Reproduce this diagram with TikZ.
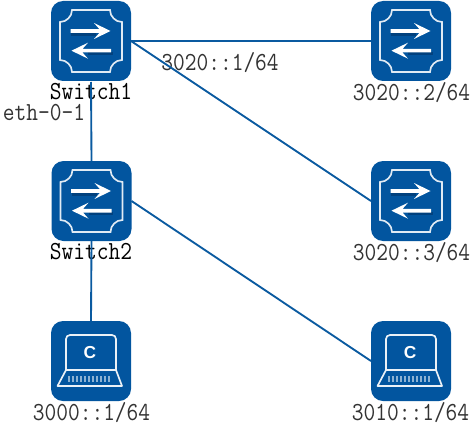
\documentclass[tikz,border=0pt]{standalone}
\usepackage{fontspec}
\newfontfamily\glyphsans{Liberation Sans}
\newcommand{\tallbox}[1]{\scalebox{1}[1.14]{#1}}
\definecolor{iconblue}{HTML}{02559F}
\definecolor{shadeblue}{HTML}{01417E}
\definecolor{linkblue}{HTML}{0A5AA0}
\tikzset{
  x=0.75pt,y=-0.75pt,
  iconbox/.style={draw=none,fill=iconblue,rounded corners=9pt,minimum width=60pt,minimum height=60pt,inner sep=0pt,outer sep=0pt},
  link/.style={draw=linkblue,line width=1.4pt},
  lab/.style={font=\fontsize{17.1pt}{18pt}\selectfont\ttfamily,text=black!80,inner sep=0pt,anchor=center},
  boldlab/.style={font=\fontsize{17.1pt}{18pt}\selectfont\ttfamily\addfontfeatures{FakeBold=0.6},text=black,inner sep=0pt,anchor=center},
  switchglyph/.pic={
    \draw[white!88!iconblue,line width=1.25pt]
      (-19,-31) -- (19,-31) .. controls (19,-24.5) and (24.5,-19) .. (31,-19)
      -- (31,19) .. controls (24.5,19) and (19,24.5) .. (19,31)
      -- (-19,31) .. controls (-19,24.5) and (-24.5,19) .. (-31,19)
      -- (-31,-19) .. controls (-24.5,-19) and (-19,-24.5) .. (-19,-31) -- cycle;
    \fill[shadeblue] (-20,-8) rectangle (5,-5);
    \fill[white] (-20.3,-11.8) -- (8.5,-11.8) -- (3,-18) -- (19.5,-10) -- (3,-2) -- (8.5,-8.2) -- (-20.3,-8.2) -- cycle;
    \fill[shadeblue] (-3,11) rectangle (21.5,14);
    \fill[white] (20,7.9) -- (-8.5,7.9) -- (-3,1.7) -- (-19.5,9.7) -- (-3,17.7) -- (-8.5,11.5) -- (20,11.5) -- cycle;
  },
  hostglyph/.pic={
    \draw[white!92!iconblue,line width=1.25pt,rounded corners=3pt] (-25,9) -- (-25,-26) -- (25,-26) -- (25,9);
    \draw[white!92!iconblue,line width=1.25pt,line join=round] (-25,9) -- (25,9) -- (31,25) -- (-33.5,25) -- cycle;
    \foreach \yy in {16,18,20}{
      \draw[white,opacity=.55,line width=.8pt,dash pattern=on 1.5pt off 1.5pt] (-23,\yy) -- (21,\yy);
    }
    \node[text=white,inner sep=0pt,font=\fontsize{13pt}{13pt}\selectfont\glyphsans\bfseries] at (-1,-8.5) {C};
  }
}
\begin{document}
\begin{tikzpicture}
\useasboundingbox (0,0) rectangle (473,431);
\node[iconbox] (s1) at (91,41) {};
\node[iconbox] (s2) at (91.5,201) {};
\node[iconbox] (h1) at (91,361) {};
\node[iconbox] (r1) at (411,41) {};
\node[iconbox] (r2) at (411,201) {};
\node[iconbox] (h2) at (411,361) {};
\coordinate (s1e) at (131,41);
\coordinate (s2e) at (131.5,201);
\coordinate (r1w) at (371,41);
\coordinate (r2w) at (371,201);
\coordinate (h2w) at (371,361);
\foreach \n in {s1,s2,r1,r2}{\pic at (\n) {switchglyph};}
\foreach \n in {h1,h2}{\pic at (\n) {hostglyph};}
\node[boldlab] (ts1) at (91,91.5) {\tallbox{Switch1}};
\node[boldlab] (ts2) at (91,252) {\tallbox{Switch2}};
\node[lab] (e) at (44,113) {\tallbox{eth-0-1}};
\node[lab] (a1) at (220,62.5) {\tallbox{3020::1/64}};
\node[lab] (a2) at (411.5,92.5) {\tallbox{3020::2/64}};
\node[lab] (a3) at (411.5,252.5) {\tallbox{3020::3/64}};
\node[lab] (a4) at (91.5,412.5) {\tallbox{3000::1/64}};
\node[lab] (a5) at (410.5,412.5) {\tallbox{3010::1/64}};
\draw[link] (s1.south) ++(0,1) -- (s2.north);
\draw[link] (s2.south) -- (h1.north);
\draw[link] (s1e) -- (r1w);
\draw[link] (s1e) -- (r2w);
\draw[link] (s2e) -- (h2w);
\end{tikzpicture}
\end{document}
